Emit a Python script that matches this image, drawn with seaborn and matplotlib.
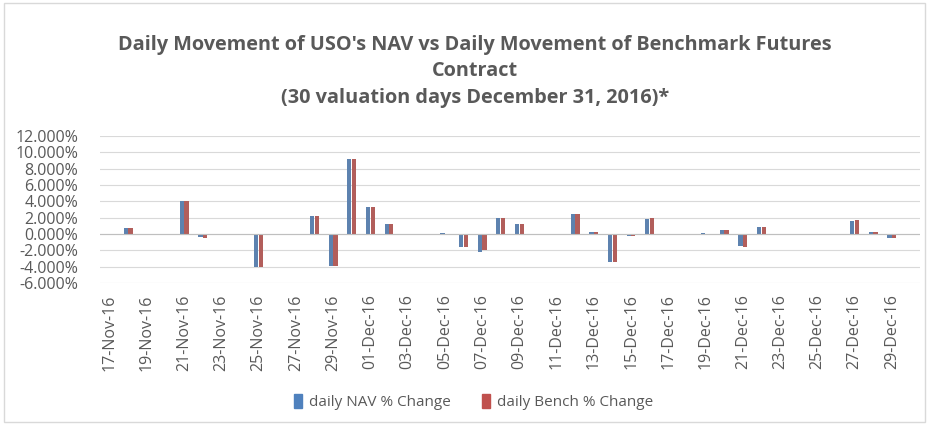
import pandas as pd
import numpy as np
import matplotlib
matplotlib.use("Agg")
import matplotlib.pyplot as plt
import seaborn as sns
from matplotlib.patches import Rectangle, Patch

# trading days and daily % changes
trade_days = ["17-Nov-16", "18-Nov-16", "21-Nov-16", "22-Nov-16", "23-Nov-16", "25-Nov-16",
              "28-Nov-16", "29-Nov-16", "30-Nov-16", "01-Dec-16", "02-Dec-16", "05-Dec-16",
              "06-Dec-16", "07-Dec-16", "08-Dec-16", "09-Dec-16", "12-Dec-16", "13-Dec-16",
              "14-Dec-16", "15-Dec-16", "16-Dec-16", "19-Dec-16", "20-Dec-16", "21-Dec-16",
              "22-Dec-16", "23-Dec-16", "27-Dec-16", "28-Dec-16", "29-Dec-16", "30-Dec-16"]
nav = [-0.15, 0.70, 4.05, -0.40, -0.15, -4.00,
       2.15, -3.95, 9.20, 3.25, 1.20, 0.10,
       -1.60, -2.20, 2.00, 1.20, 2.45, 0.30,
       -3.40, -0.20, 1.90, 0.10, 0.45, -1.45,
       0.80, 0.00, 1.65, 0.25, -0.45, -0.10]
bench = [-0.15, 0.75, 4.05, -0.45, -0.10, -4.00,
         2.25, -3.95, 9.20, 3.35, 1.20, 0.05,
         -1.60, -2.00, 2.00, 1.20, 2.45, 0.30,
         -3.40, -0.20, 1.95, 0.05, 0.45, -1.55,
         0.80, 0.00, 1.70, 0.25, -0.45, -0.10]
series = ["daily NAV % Change", "daily Bench % Change"]
colors = ["#4F81BD", "#C0504D"]

all_days = list(pd.date_range("2016-11-17", "2016-12-30").strftime("%d-%b-%y"))

df = pd.DataFrame({"day": trade_days * 2,
                   "pct": nav + bench,
                   "series": [series[0]] * len(nav) + [series[1]] * len(bench)})

plt.rcParams["font.family"] = ["Open Sans", "DejaVu Sans"]
fig = plt.figure(figsize=(9.29, 4.25), dpi=100)
ax = fig.add_axes([0.108, 0.334, 0.882, 0.346])

sns.barplot(data=df, x="day", y="pct", hue="series", order=all_days, hue_order=series,
            palette=colors, width=0.5, gap=0.1, ax=ax, legend=False)

ax.set_ylim(-6, 12)
ax.set_yticks(np.arange(-6, 12.1, 2))
ax.set_yticklabels([f"{v:.3f}%" for v in np.arange(-6, 12.1, 2)], fontsize=11.5, color="#595959")
ax.set_xlim(-0.5, len(all_days) - 0.5)
ax.set_xticks(range(0, len(all_days), 2))
ax.set_xticklabels(all_days[::2], rotation=90, fontsize=11.5, color="#595959")
ax.tick_params(axis="y", length=0, pad=16)
ax.tick_params(axis="x", length=0, pad=8)
ax.set_xlabel("")
ax.set_ylabel("")
ax.grid(axis="y", color="#d9d9d9", lw=0.8)
ax.set_axisbelow(True)
for s in ax.spines.values():
    s.set_visible(False)
ax.axhline(0, color="#bfbfbf", lw=0.8, zorder=1)

fig.text(0.511, 1 - 35 / 425,
         "Daily Movement of USO's NAV vs Daily Movement of Benchmark Futures\nContract\n(30 valuation days December 31, 2016)*",
         ha="center", va="top", fontsize=14.3, fontweight="bold", color="#595959", linespacing=1.42)

handles = [Patch(color=c) for c in colors]
fig.legend(handles, series, loc="center", bbox_to_anchor=(0.51, 0.054), ncol=2, frameon=False,
           fontsize=11, handlelength=0.5, handleheight=1.0, columnspacing=2.0,
           handletextpad=0.5, labelcolor="#595959")

fig.add_artist(Rectangle((0.004, 0.008), 0.992, 0.984, transform=fig.transFigure,
                         fill=False, edgecolor="#d9d9d9", lw=1))

fig.savefig("out.png", dpi=100)
